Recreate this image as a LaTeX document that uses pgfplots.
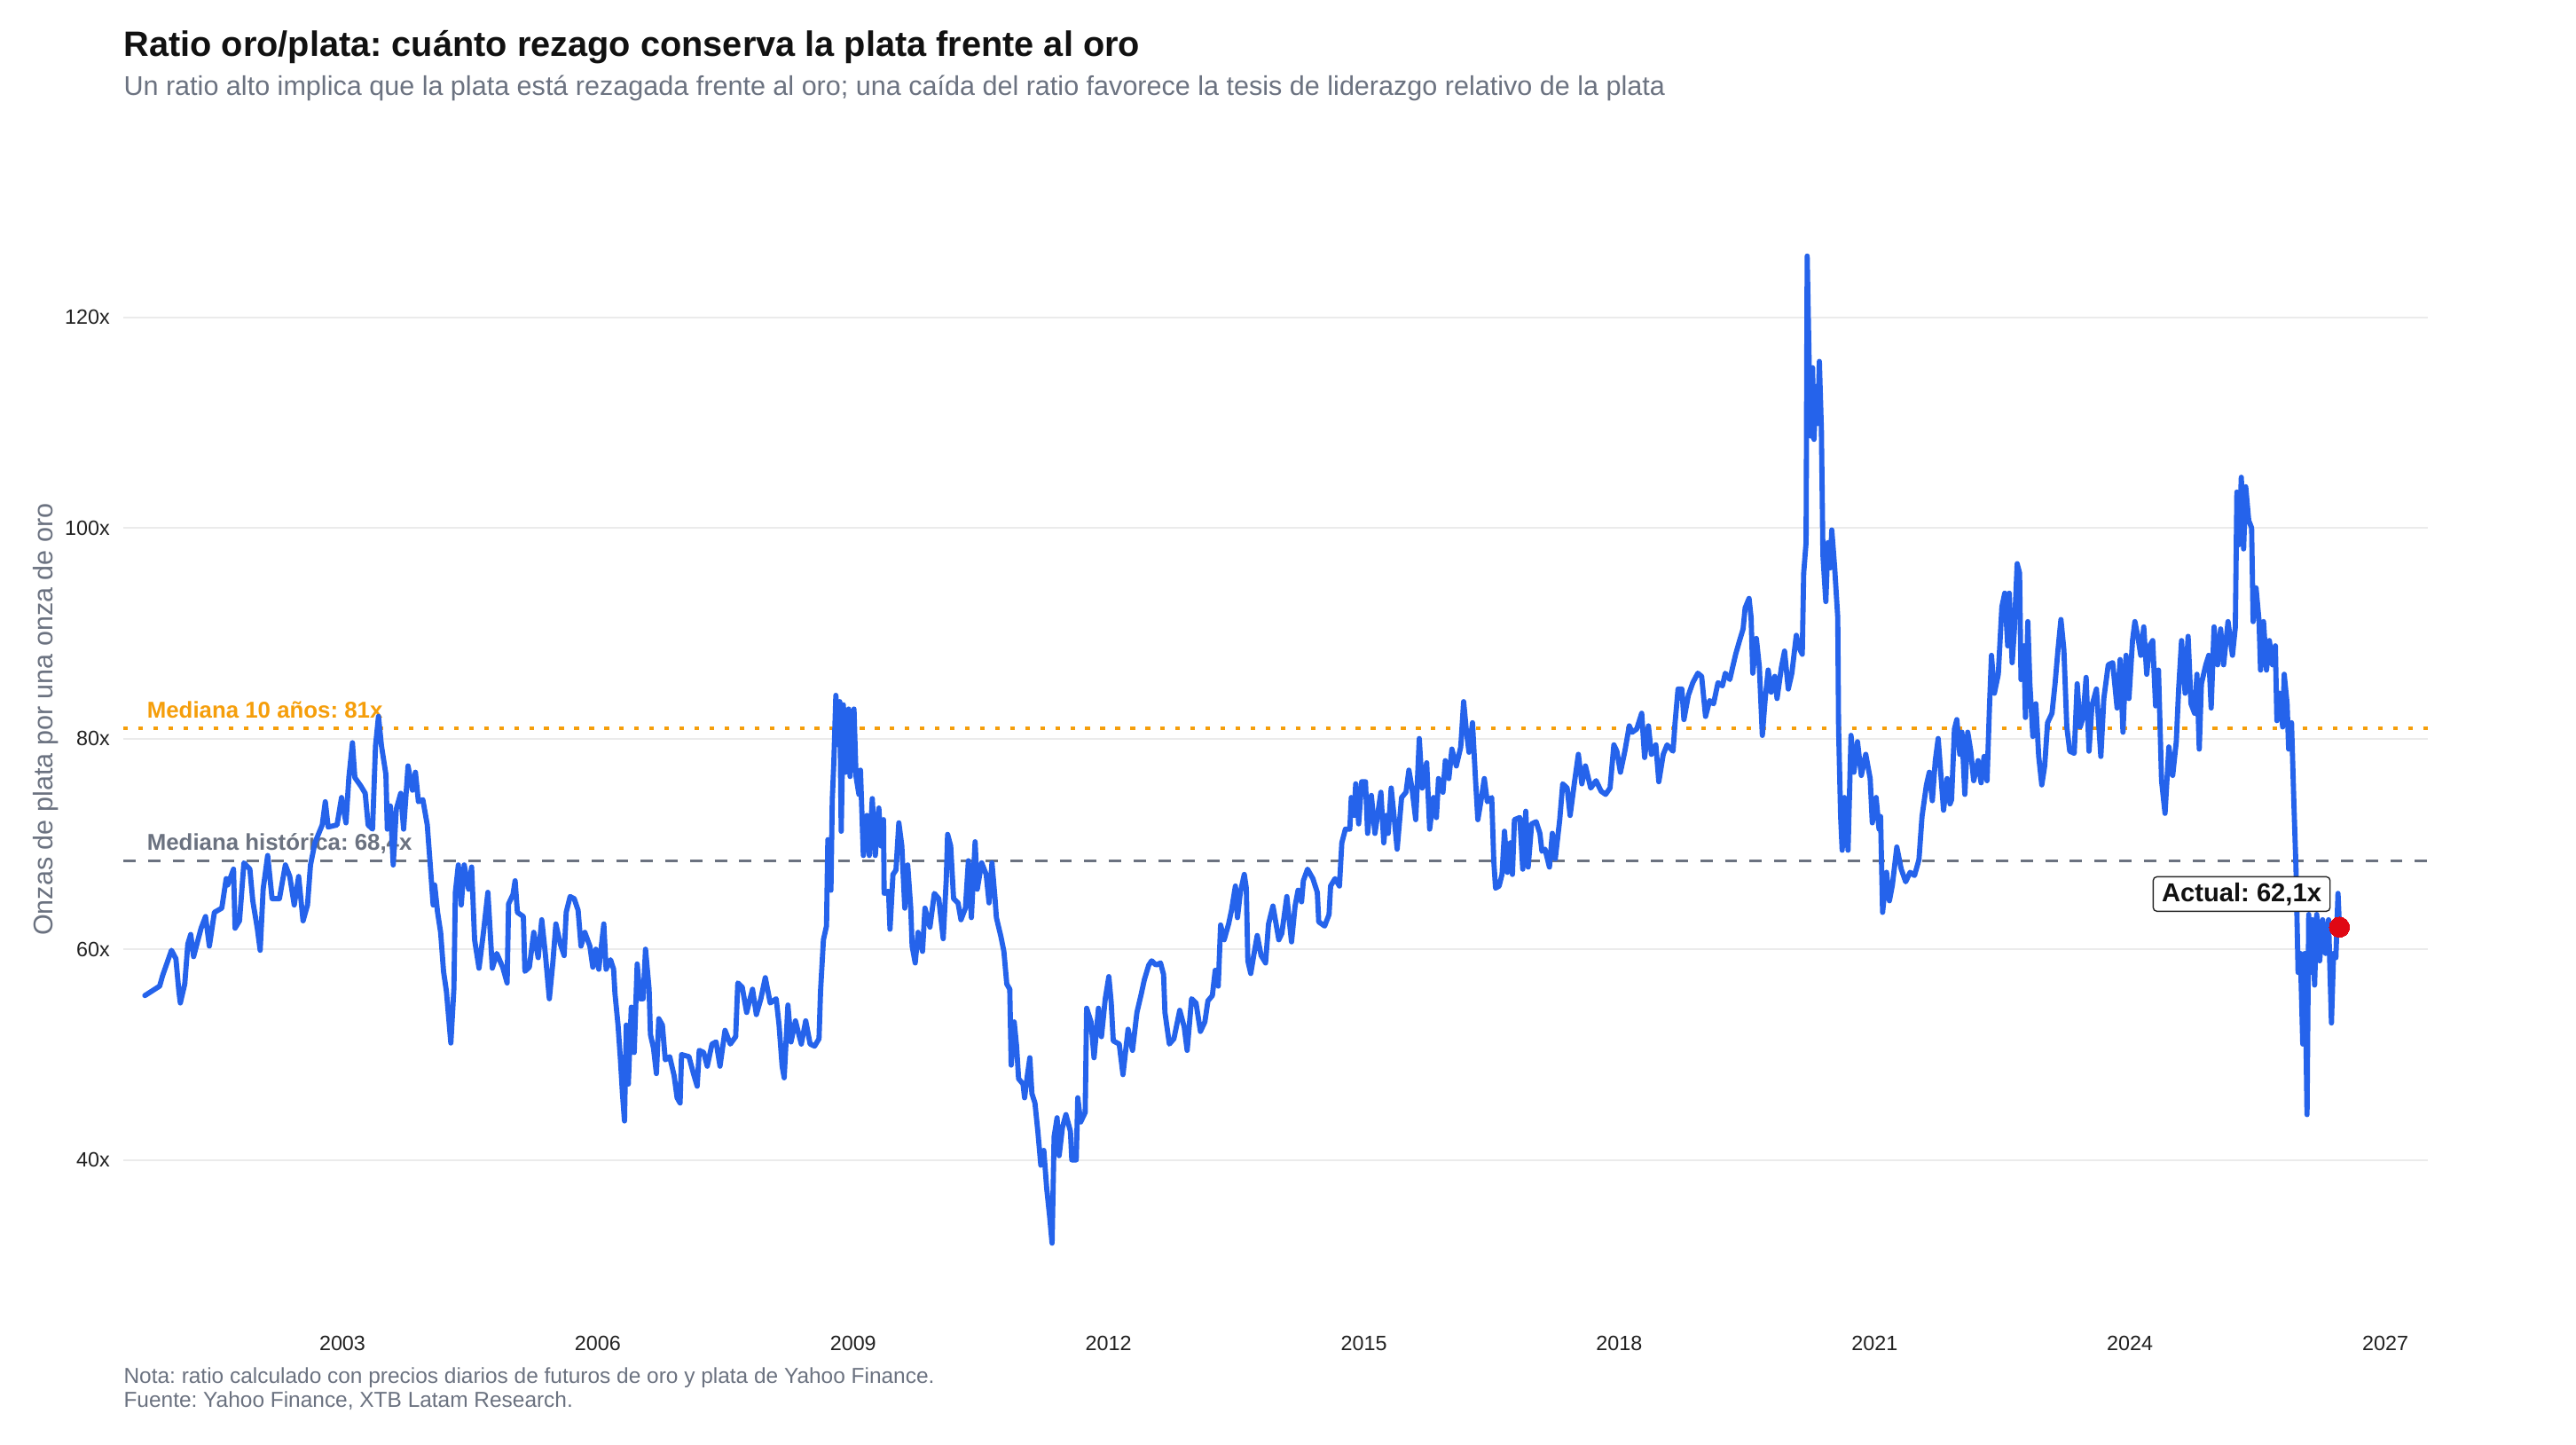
\documentclass[border=0pt]{standalone}
\usepackage{pgfplots}
\pgfplotsset{compat=1.18}
\usepackage{pgfplotstable}
\usepackage{fontspec}
\setmainfont{Liberation Sans}
\frenchspacing

\definecolor{lineblue}{HTML}{2563EB}
\definecolor{medorange}{HTML}{F59E0B}
\definecolor{medgray}{HTML}{6B7280}
\definecolor{gridgray}{HTML}{EBEBEB}
\definecolor{titleink}{HTML}{111111}
\definecolor{tickink}{HTML}{222222}
\definecolor{dotred}{HTML}{E00814}

% Gold/silver ratio (ounces of silver per ounce of gold), decimal years
\pgfplotstableread{
year ratio
2000.679 55.6
2000.853 56.5
2000.888 57.5
2000.992 59.9
2001.044 59.1
2001.079 56.0
2001.096 54.9
2001.148 56.7
2001.184 60.5
2001.218 61.4
2001.252 59.3
2001.340 62.0
2001.392 63.1
2001.437 60.3
2001.496 63.5
2001.583 63.9
2001.635 66.7
2001.653 66.1
2001.721 67.6
2001.739 62.0
2001.791 62.7
2001.843 68.2
2001.913 67.6
2001.947 64.6
2002.000 62.0
2002.034 59.9
2002.069 65.7
2002.122 68.9
2002.174 64.8
2002.260 64.8
2002.330 68.0
2002.382 66.9
2002.434 64.2
2002.486 66.9
2002.538 62.7
2002.590 64.2
2002.625 68.0
2002.677 70.1
2002.763 71.8
2002.799 74.0
2002.833 71.6
2002.937 71.8
2002.990 74.4
2003.042 72.0
2003.076 76.3
2003.118 79.6
2003.146 76.3
2003.216 75.5
2003.268 74.8
2003.302 71.8
2003.354 71.4
2003.389 79.3
2003.424 82.1
2003.459 79.3
2003.511 76.6
2003.528 71.4
2003.563 73.6
2003.597 68.0
2003.633 73.3
2003.685 74.8
2003.719 71.4
2003.771 77.4
2003.823 75.1
2003.858 76.8
2003.893 74.0
2003.945 74.2
2003.997 71.8
2004.032 68.0
2004.066 64.2
2004.084 66.1
2004.118 63.5
2004.154 61.6
2004.188 57.9
2004.222 56.0
2004.274 51.1
2004.310 56.3
2004.327 65.4
2004.362 68.0
2004.396 64.2
2004.431 68.0
2004.483 65.7
2004.518 67.8
2004.553 60.9
2004.605 58.2
2004.657 61.6
2004.709 65.4
2004.761 58.2
2004.813 59.6
2004.883 58.3
2004.935 56.8
2004.952 64.3
2005.004 65.2
2005.029 66.5
2005.056 63.5
2005.126 63.1
2005.144 57.9
2005.196 58.3
2005.248 61.6
2005.300 59.2
2005.342 62.8
2005.386 59.4
2005.431 55.3
2005.473 58.8
2005.508 62.4
2005.560 60.5
2005.605 59.4
2005.629 63.5
2005.675 65.0
2005.723 64.8
2005.769 63.7
2005.803 60.3
2005.848 61.6
2005.907 60.3
2005.942 58.3
2005.977 60.0
2006.012 58.1
2006.071 62.4
2006.098 58.1
2006.150 59.0
2006.186 58.1
2006.202 55.8
2006.238 52.8
2006.265 49.7
2006.290 46.3
2006.314 43.7
2006.335 52.8
2006.359 47.2
2006.394 54.5
2006.428 50.2
2006.463 58.6
2006.498 55.3
2006.533 55.3
2006.561 60.0
2006.603 56.2
2006.619 51.9
2006.655 50.6
2006.689 48.2
2006.717 53.4
2006.759 52.8
2006.793 49.5
2006.845 49.8
2006.897 48.0
2006.932 45.9
2006.967 45.4
2006.984 50.0
2007.071 49.8
2007.124 48.2
2007.168 47.0
2007.192 50.4
2007.244 50.2
2007.286 48.9
2007.342 51.0
2007.390 51.2
2007.436 48.9
2007.495 52.3
2007.557 51.0
2007.620 51.7
2007.645 56.8
2007.697 56.4
2007.749 54.0
2007.818 56.2
2007.863 53.8
2007.916 55.3
2007.968 57.3
2008.026 54.9
2008.096 55.3
2008.130 52.8
2008.166 48.9
2008.190 47.8
2008.234 54.7
2008.270 51.2
2008.322 53.2
2008.391 51.0
2008.443 53.2
2008.495 51.0
2008.547 50.8
2008.599 51.5
2008.617 56.0
2008.651 60.9
2008.687 62.2
2008.703 70.4
2008.739 65.6
2008.755 74.2
2008.773 77.7
2008.797 84.1
2008.825 79.4
2008.843 83.5
2008.860 71.2
2008.885 83.2
2008.912 76.8
2008.947 82.8
2008.964 76.4
2009.010 82.8
2009.034 76.4
2009.068 74.7
2009.086 77.0
2009.120 68.9
2009.162 72.7
2009.190 68.9
2009.225 74.3
2009.260 68.9
2009.302 73.4
2009.329 69.8
2009.357 72.3
2009.364 65.3
2009.416 65.5
2009.433 61.9
2009.468 67.1
2009.503 67.5
2009.537 72.0
2009.572 69.8
2009.607 63.9
2009.641 68.0
2009.677 63.9
2009.693 60.3
2009.729 58.7
2009.763 61.6
2009.815 59.8
2009.844 63.9
2009.902 62.1
2009.954 65.3
2010.006 64.8
2010.058 61.0
2010.094 66.6
2010.110 70.9
2010.146 69.8
2010.180 64.8
2010.232 64.4
2010.267 62.8
2010.319 63.9
2010.354 68.4
2010.389 63.0
2010.433 70.2
2010.458 65.7
2010.510 68.2
2010.563 67.1
2010.597 64.4
2010.631 68.2
2010.667 64.8
2010.683 63.0
2010.736 61.2
2010.771 59.8
2010.805 56.7
2010.840 56.2
2010.857 49.0
2010.892 53.1
2010.920 50.8
2010.944 47.7
2010.996 47.2
2011.014 45.9
2011.048 48.1
2011.076 49.7
2011.100 46.3
2011.136 45.4
2011.170 42.7
2011.205 39.5
2011.240 40.9
2011.274 37.3
2011.309 34.6
2011.337 32.1
2011.361 42.2
2011.396 44.0
2011.420 40.4
2011.459 43.1
2011.500 44.3
2011.553 42.7
2011.569 40.0
2011.621 40.0
2011.639 45.9
2011.673 43.6
2011.726 44.5
2011.743 54.4
2011.795 53.1
2011.830 49.7
2011.882 54.4
2011.917 51.7
2011.962 55.3
2012.004 57.4
2012.032 54.9
2012.056 51.3
2012.126 51.0
2012.170 48.1
2012.230 52.4
2012.282 50.4
2012.334 54.0
2012.386 55.8
2012.421 57.1
2012.473 58.5
2012.507 58.9
2012.559 58.5
2012.611 58.7
2012.647 57.6
2012.663 54.0
2012.715 51.0
2012.768 51.5
2012.837 54.2
2012.890 52.6
2012.924 50.4
2012.976 55.3
2013.028 54.9
2013.080 52.2
2013.132 53.1
2013.168 55.1
2013.220 55.6
2013.254 58.0
2013.289 56.5
2013.317 62.3
2013.359 60.9
2013.411 62.4
2013.445 63.7
2013.491 66.0
2013.515 63.0
2013.549 65.4
2013.595 67.1
2013.619 65.8
2013.637 58.9
2013.671 57.7
2013.706 59.4
2013.747 61.3
2013.793 59.4
2013.845 58.7
2013.880 62.4
2013.932 64.1
2014.001 60.9
2014.036 61.5
2014.095 65.0
2014.150 60.7
2014.192 64.1
2014.227 65.6
2014.268 64.5
2014.289 66.5
2014.338 67.6
2014.401 66.7
2014.453 65.4
2014.470 62.6
2014.539 62.2
2014.591 63.3
2014.609 66.0
2014.661 66.7
2014.713 66.0
2014.741 70.1
2014.783 71.4
2014.835 71.4
2014.852 74.4
2014.887 72.7
2014.904 75.7
2014.939 71.9
2014.974 75.9
2015.019 75.9
2015.044 71.0
2015.088 74.6
2015.130 71.0
2015.200 74.9
2015.234 70.1
2015.262 72.7
2015.286 71.0
2015.321 75.3
2015.356 72.5
2015.391 69.5
2015.443 74.4
2015.495 74.9
2015.529 77.0
2015.565 75.3
2015.609 72.3
2015.651 80.0
2015.685 75.3
2015.738 77.7
2015.773 71.4
2015.818 74.4
2015.852 72.5
2015.877 76.2
2015.929 74.9
2015.957 77.9
2015.998 76.2
2016.034 79.0
2016.086 77.4
2016.138 79.2
2016.172 83.5
2016.207 80.5
2016.235 78.7
2016.276 81.5
2016.311 76.2
2016.339 72.3
2016.374 74.0
2016.415 76.2
2016.450 74.0
2016.502 74.4
2016.526 68.4
2016.547 65.8
2016.589 66.0
2016.623 67.1
2016.652 71.2
2016.686 67.3
2016.721 70.1
2016.745 67.1
2016.769 72.3
2016.832 72.5
2016.867 67.6
2016.902 73.1
2016.930 67.8
2016.971 71.9
2017.024 72.1
2017.068 71.0
2017.092 69.3
2017.128 69.5
2017.180 67.8
2017.214 71.0
2017.249 68.6
2017.301 72.3
2017.336 75.7
2017.388 75.3
2017.423 72.7
2017.475 75.9
2017.520 78.5
2017.561 75.7
2017.603 77.4
2017.665 75.3
2017.728 76.0
2017.787 75.0
2017.840 74.7
2017.892 75.3
2017.937 79.4
2017.972 78.8
2018.014 76.8
2018.066 78.8
2018.118 81.2
2018.152 80.6
2018.205 80.9
2018.264 82.4
2018.298 78.2
2018.343 81.2
2018.378 78.5
2018.430 79.4
2018.465 75.9
2018.517 78.5
2018.562 79.4
2018.632 78.8
2018.656 81.5
2018.691 84.7
2018.736 84.7
2018.760 81.8
2018.812 84.1
2018.864 85.3
2018.923 86.2
2018.968 85.9
2019.014 82.1
2019.062 83.6
2019.108 83.3
2019.160 85.3
2019.212 85.0
2019.246 86.2
2019.299 85.6
2019.333 86.8
2019.368 88.0
2019.410 89.2
2019.455 90.4
2019.479 92.4
2019.525 93.3
2019.549 91.5
2019.569 86.2
2019.611 89.5
2019.646 86.8
2019.681 80.3
2019.715 83.8
2019.750 86.5
2019.785 84.4
2019.827 85.9
2019.854 83.8
2019.906 86.8
2019.942 88.3
2019.986 84.7
2020.028 86.2
2020.080 89.8
2020.114 88.6
2020.150 88.0
2020.167 95.7
2020.195 98.6
2020.208 125.8
2020.236 113.4
2020.254 108.7
2020.271 115.2
2020.288 108.4
2020.312 113.4
2020.333 109.9
2020.351 115.8
2020.375 109.3
2020.393 97.4
2020.427 93.0
2020.452 98.6
2020.479 96.2
2020.497 99.8
2020.531 96.2
2020.567 91.5
2020.577 80.9
2020.601 72.6
2020.619 69.4
2020.646 74.4
2020.688 69.4
2020.723 80.3
2020.757 76.8
2020.799 79.7
2020.844 76.5
2020.896 78.5
2020.948 76.2
2020.973 72.0
2021.018 74.4
2021.052 71.4
2021.070 72.6
2021.094 63.5
2021.140 67.3
2021.174 64.6
2021.209 66.1
2021.261 69.7
2021.313 67.6
2021.365 66.4
2021.417 67.3
2021.469 67.0
2021.521 68.5
2021.557 72.6
2021.609 75.6
2021.643 76.8
2021.678 74.1
2021.713 77.9
2021.747 80.0
2021.782 76.2
2021.810 73.2
2021.852 76.2
2021.886 73.8
2021.904 74.2
2021.938 80.9
2021.966 81.8
2022.001 78.5
2022.026 80.6
2022.060 74.7
2022.094 80.6
2022.130 78.8
2022.164 76.0
2022.216 77.9
2022.251 75.8
2022.286 78.3
2022.321 76.0
2022.349 82.9
2022.373 87.9
2022.407 84.3
2022.453 86.1
2022.495 92.5
2022.529 93.8
2022.564 88.8
2022.582 93.8
2022.616 87.2
2022.641 90.2
2022.675 96.6
2022.703 95.7
2022.720 85.6
2022.755 88.8
2022.772 82.0
2022.800 91.1
2022.824 85.2
2022.859 80.2
2022.894 83.3
2022.928 78.3
2022.964 75.6
2022.998 77.4
2023.032 81.5
2023.084 82.4
2023.120 85.2
2023.154 88.4
2023.189 91.3
2023.224 88.4
2023.258 81.1
2023.293 78.8
2023.345 78.6
2023.380 85.2
2023.415 81.1
2023.449 82.0
2023.485 85.8
2023.519 78.8
2023.553 83.1
2023.606 84.7
2023.658 78.3
2023.693 83.8
2023.745 87.0
2023.797 87.2
2023.849 82.9
2023.884 87.5
2023.918 80.6
2023.954 87.9
2023.988 83.8
2024.030 89.3
2024.058 91.1
2024.092 89.7
2024.127 87.9
2024.162 90.6
2024.197 86.1
2024.231 88.8
2024.267 89.3
2024.301 83.1
2024.335 86.5
2024.371 76.0
2024.412 72.9
2024.457 79.2
2024.502 76.5
2024.544 79.7
2024.572 84.7
2024.606 89.3
2024.648 84.3
2024.683 89.7
2024.717 83.3
2024.759 82.4
2024.787 86.1
2024.814 79.0
2024.839 85.2
2024.891 87.0
2024.926 87.9
2024.954 82.9
2024.988 90.6
2025.030 87.0
2025.065 90.4
2025.100 87.0
2025.152 91.1
2025.204 87.9
2025.238 90.6
2025.256 103.4
2025.280 98.4
2025.308 104.8
2025.335 98.0
2025.360 103.9
2025.395 100.7
2025.429 100.0
2025.447 91.1
2025.481 94.3
2025.517 91.1
2025.534 86.5
2025.569 91.1
2025.604 86.5
2025.638 89.3
2025.674 87.0
2025.708 88.8
2025.726 81.7
2025.760 84.3
2025.794 81.1
2025.812 86.1
2025.846 83.3
2025.864 79.0
2025.898 81.5
2025.926 73.8
2025.950 67.8
2025.975 57.8
2026.002 59.6
2026.030 51.0
2026.054 59.6
2026.080 44.3
2026.100 63.3
2026.124 57.8
2026.142 62.8
2026.169 56.6
2026.194 63.3
2026.229 58.9
2026.263 62.8
2026.298 59.6
2026.333 62.8
2026.367 53.0
2026.392 59.6
2026.419 59.2
2026.444 65.3
2026.461 62.1
}\ratiodata

\begin{document}
\begin{tikzpicture}[x=1pt,y=1pt]
% canvas
\fill[white] (0,0) rectangle (1045.44,586.08);

% titles
\node[anchor=base west, inner sep=0pt, text=titleink,
      font=\fontsize{14.3}{17}\selectfont\bfseries] at (50.04,563.3)
  {Ratio oro/plata: cuánto rezago conserva la plata frente al oro};
\node[anchor=base west, inner sep=0pt, text=medgray,
      font=\fontsize{11}{13}\selectfont] at (50.04,547.2)
  {Un ratio alto implica que la plata está rezagada frente al oro; una caída del ratio favorece la tesis de liderazgo relativo de la plata};

% y axis title
\node[rotate=90, inner sep=0pt, text=medgray,
      font=\fontsize{11}{13}\selectfont] at (18.7,294.1)
  {Onzas de plata por una onza de oro};

% caption
\node[anchor=base west, inner sep=0pt, text=medgray,
      font=\fontsize{8.8}{10}\selectfont] at (50.04,24.5)
  {Nota: ratio calculado con precios diarios de futuros de oro y plata de Yahoo Finance.};
\node[anchor=base west, inner sep=0pt, text=medgray,
      font=\fontsize{8.8}{10}\selectfont] at (50.04,15.1)
  {Fuente: Yahoo Finance, XTB Latam Research.};

\begin{axis}[
  at={(50.04pt,59.76pt)}, anchor=south west,
  scale only axis, width=935.28pt, height=440.35pt,
  xmin=2000.426, xmax=2027.5, ymin=27, ymax=130,
  axis line style={draw=none},
  major tick length=0pt,
  tick style={draw=none},
  xtick={2003,2006,2009,2012,2015,2018,2021,2024,2027},
  xticklabels={2003,2006,2009,2012,2015,2018,2021,2024,2027},
  ytick={40,60,80,100,120},
  yticklabels={40x,60x,80x,100x,120x},
  ymajorgrids,
  grid style={gridgray, line width=0.75pt},
  xticklabel style={font=\fontsize{8.4}{10}\selectfont, text=tickink,
                    anchor=base, inner sep=0pt, yshift=-21.85pt},
  yticklabel style={font=\fontsize{8.4}{10}\selectfont, text=tickink,
                    anchor=east, inner sep=0pt, xshift=-5.26pt},
  clip=false,
]
% reference medians
\addplot[medorange, line width=1.4pt, dash pattern=on 1.9pt off 4.2pt]
  coordinates {(2000.426,81) (2027.5,81)};
\addplot[medgray, line width=1.3pt, dash pattern=on 5pt off 5pt]
  coordinates {(2000.426,68.4) (2027.5,68.4)};

\node[anchor=base west, inner sep=0pt, text=medorange,
      font=\fontsize{9.3}{11}\selectfont\bfseries, yshift=4.2pt]
  at (axis cs:2000.70,81) {Mediana 10 años: 81x};
\node[anchor=base west, inner sep=0pt, text=medgray,
      font=\fontsize{9.3}{11}\selectfont\bfseries, yshift=4.2pt]
  at (axis cs:2000.70,68.4) {Mediana histórica: 68,4x};

% ratio series
\addplot[lineblue, line width=2.1pt, line join=round, line cap=round]
  table[x=year, y=ratio] {\ratiodata};

% latest value
\addplot[dotred, only marks, mark=*, mark size=4.1pt,
         mark options={fill=dotred, draw=dotred, line width=0pt}]
  coordinates {(2026.461,62.1)};
\node[draw=black!85, line width=0.5pt, rounded corners=1.5pt, fill=white,
      text=titleink, font=\fontsize{10.5}{12}\selectfont\bfseries,
      inner xsep=3.5pt, inner ysep=0pt, minimum height=14pt,
      anchor=east, xshift=-3.56pt]
  at (axis cs:2026.461,65.24) {Actual: 62,1x};
\end{axis}
\end{tikzpicture}
\end{document}
